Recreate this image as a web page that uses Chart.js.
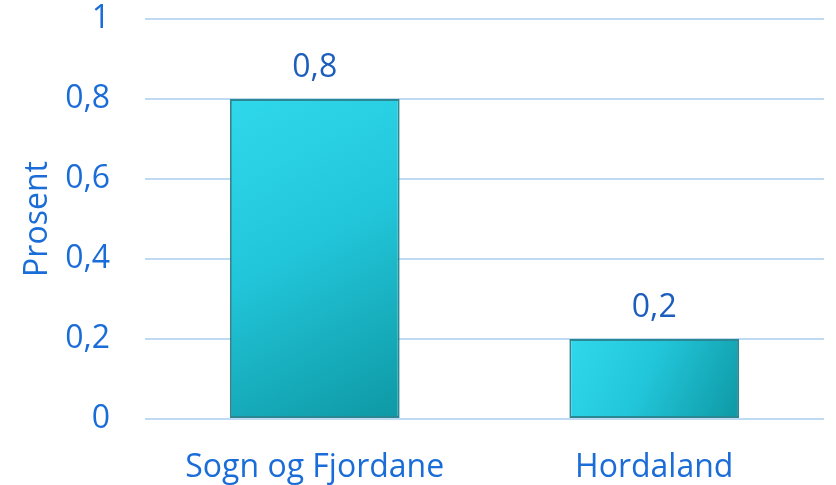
<!DOCTYPE html>
<html>
<head>
<meta charset="utf-8">
<script src="https://cdn.jsdelivr.net/npm/chart.js@4/dist/chart.umd.min.js"></script>
<style>
  html, body { margin: 0; padding: 0; background: #fff; overflow: hidden; }
  canvas { display: block; }
</style>
</head>
<body>
<canvas id="myChart" width="836" height="485"></canvas>
<script>
// data
var fylker = ['Sogn og Fjordane', 'Hordaland'];
var prosent = [0.8, 0.2];
var yTicks = [0, 0.2, 0.4, 0.6, 0.8, 1];

var blaa = '#1a6dd8';
var fontNavn = "'Open Sans', sans-serif";

function komma(v){
	return String(Math.round(v * 10) / 10).replace('.', ',');
}

// gradient pr. stolpe, skrått fra lys oppe til venstre til mørk nede til høyre
function stolpeFarge(context){
	var chart = context.chart;
	if (!chart.chartArea || !chart.scales.x) return '#22c8dc';
	var ctx = chart.ctx;
	var i = context.dataIndex;
	var cx = chart.scales.x.getPixelForValue(i);
	var halv = (chart.scales.x.getPixelForValue(1) - chart.scales.x.getPixelForValue(0)) * 0.25;
	var topp = chart.scales.y.getPixelForValue(prosent[i]);
	var bunn = chart.scales.y.getPixelForValue(0);
	var g = ctx.createLinearGradient(cx - halv, topp, cx + halv, bunn);
	g.addColorStop(0, '#30d8ec');
	g.addColorStop(0.45, '#22c6da');
	g.addColorStop(1, '#0e98a4');
	return g;
}

// verdier over stolpene
var verdiEtiketter = {
	id: 'verdiEtiketter',
	afterDatasetsDraw: function(chart){
		var ctx = chart.ctx;
		var meta = chart.getDatasetMeta(0);
		ctx.save();
		ctx.font = '32px ' + fontNavn;
		ctx.fillStyle = '#1d5ebd';
		ctx.textAlign = 'center';
		ctx.textBaseline = 'alphabetic';
		meta.data.forEach(function(bar, i){
			ctx.fillText(komma(prosent[i]), bar.x, bar.y - 22);
		});
		ctx.restore();
	}
};

new Chart(document.getElementById('myChart'), {
	type: 'bar',
	data: {
		labels: fylker,
		datasets: [{
			label: 'Prosent',
			data: prosent,
			backgroundColor: stolpeFarge,
			borderColor: '#2b8791',
			borderWidth: 2,
			borderSkipped: false,
			barPercentage: 0.5,
			categoryPercentage: 1
		}]
	},
	options: {
		responsive: false,
		animation: false,
		layout: { padding: { top: 2, right: 12, left: 0, bottom: 0 } },
		plugins: {
			legend: { display: false },
			tooltip: { enabled: false }
		},
		scales: {
			x: {
				grid: { display: false },
				border: { display: false },
				ticks: {
					color: blaa,
					font: { family: fontNavn, size: 32 },
					padding: 22,
					maxRotation: 0
				},
				afterFit: function(scale){
					scale.height = 66;
					scale.paddingLeft = 0;
					scale.paddingRight = 0;
				}
			},
			y: {
				min: 0,
				max: 1,
				afterBuildTicks: function(scale){
					scale.ticks = yTicks.map(function(v){ return { value: v }; });
				},
				grid: { color: '#bfdaf3', lineWidth: 2, drawTicks: false },
				border: { display: false },
				ticks: {
					color: blaa,
					font: { family: fontNavn, size: 32 },
					padding: 35,
					callback: function(v){ return komma(v); }
				},
				title: {
					display: true,
					text: 'Prosent',
					color: blaa,
					font: { family: fontNavn, size: 32 },
					padding: { top: 19, bottom: 11 }
				},
				afterFit: function(scale){
					scale.width = 145;
					scale.paddingTop = 19;
					scale.paddingBottom = 0;
				}
			}
		}
	},
	plugins: [verdiEtiketter]
});
</script>
</body>
</html>
